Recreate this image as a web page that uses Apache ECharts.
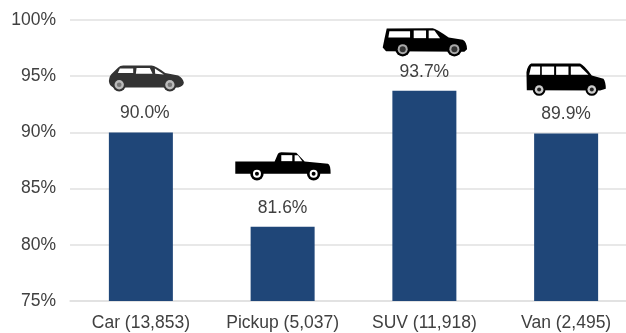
<!DOCTYPE html>
<html><head><meta charset="utf-8">
<style>html,body{margin:0;padding:0;background:#fff;overflow:hidden}#c{width:626px;height:333px;overflow:hidden}</style>
<script src="https://cdn.jsdelivr.net/npm/echarts@6/dist/echarts.min.js"></script>
</head><body><div id="c"></div>
<script>
const categories = ['Car (13,853)', 'Pickup (5,037)', 'SUV (11,918)', 'Van (2,495)'];
const values = [90.0, 81.6, 93.7, 89.9];
const yTicks = { min: 75, max: 100, interval: 5 };

// Vehicle pictograms, drawn at 3x and anchored to the top of each bar.
const icons = [
  { ox: -51, oy: -82, color: '#333',
    body: 'M57 92 Q58 76 68 68 L85 51 Q90 45 100 45 L185 45 Q197 45 226 68 L265 75 Q280 84 282 97 Q280 108 265 111 L70 111 Q58 106 57 92 Z',
    windows: ['M90 54 L130 54 L130 68 L84 68 Z', 'M140 53 L180 53 L188 70 L138 70 Z', 'M195 54 L222 72 L196 70 Z'],
    wheels: [[88, 103], [240, 103]], r: [20, 14, 7], wc: ['#333', '#bbb', '#777'] },
  { ox: -193, oy: -177, color: '#000',
    body: 'M437 335 L555 335 L565 312 Q567 307 575 307 L620 309 L645 335 L715 342 Q723 345 723 372 L437 372 Z',
    windows: ['M575 316 L608 316 L608 334 L575 334 Z', 'M615 316 L625 316 L638 334 L615 334 Z'],
    wheels: [[502, 372], [672, 372]], r: [20, 12, 6], wc: ['#000', '#fff', '#000'] },
  { ox: -55, oy: -75, color: '#000',
    body: 'M52 38 L190 37 Q200 38 238 65 L280 72 Q292 78 293 100 L285 108 L50 106 L40 95 L45 70 Z',
    windows: ['M60 46 L122 46 L122 65 L57 65 Z', 'M133 44 L170 44 L170 67 L133 67 Z', 'M178 44 L195 44 L212 67 L178 67 Z'],
    wheels: [[100, 100], [255, 100]], r: [22, 15, 9], wc: ['#000', '#aaa', '#333'] },
  { ox: -196, oy: -118, color: '#000',
    body: 'M483 144 L630 144 Q640 147 665 180 L700 190 Q707 200 707 220 L690 225 L470 224 L469 170 Q472 150 483 144 Z',
    windows: ['M483 153 L510 153 L510 178 L477 178 Z', 'M515 153 L552 153 L552 178 L515 178 Z', 'M558 153 L595 153 L595 178 L558 178 Z', 'M602 153 L630 153 L655 178 L602 178 Z'],
    wheels: [[507, 222], [665, 222]], r: [19, 13, 6], wc: ['#000', '#ccc', '#222'] }
];

function renderIcon(params, api) {
  const p = api.coord([api.value(0), api.value(1)]);
  const ic = icons[params.dataIndex];
  const children = [{ type: 'path', shape: { pathData: ic.body }, style: { fill: ic.color } }];
  ic.windows.forEach(d => children.push({ type: 'path', shape: { pathData: d }, style: { fill: '#fff' } }));
  ic.wheels.forEach(w => ic.r.forEach((r, i) => children.push({
    type: 'circle', shape: { cx: w[0], cy: w[1], r: r }, style: { fill: ic.wc[i] }
  })));
  return { type: 'group', x: p[0] + ic.ox, y: p[1] + ic.oy, scaleX: 1 / 3, scaleY: 1 / 3, children: children };
}

const font = 'Liberation Sans';
const chart = echarts.init(document.getElementById('c'), null, { renderer: 'canvas' });
chart.setOption({
  animation: false,
  backgroundColor: '#fff',
  grid: { left: 70, top: 20, width: 567, height: 281, containLabel: false, outerBoundsMode: 'none' },
  xAxis: {
    type: 'category', data: categories,
    axisTick: { show: false },
    axisLine: { lineStyle: { color: '#e0e0e0', width: 1.5 } },
    axisLabel: { color: '#404040', fontFamily: font, fontSize: 17.5, margin: 13, interval: 0 }
  },
  yAxis: {
    type: 'value', min: yTicks.min, max: yTicks.max, interval: yTicks.interval,
    axisLine: { show: false }, axisTick: { show: false },
    axisLabel: { color: '#404040', fontFamily: font, fontSize: 17.5, margin: 14, padding: [2, 0, 0, 0], formatter: '{value}%' },
    splitLine: { lineStyle: { color: '#e0e0e0', width: 1.5 } }
  },
  series: [
    {
      type: 'bar', barWidth: 64, z: 3,
      data: values.map((v, i) => i === 0 ? { value: v, label: { offset: [4, 0] } } : v),
      itemStyle: { color: '#1f4678' },
      label: {
        show: true, position: 'top', distance: 10, color: '#404040',
        fontFamily: font, fontSize: 17.5,
        formatter: p => p.value.toFixed(1) + '%'
      }
    },
    {
      type: 'custom', z: 4, silent: true, clip: false,
      data: values.map((v, i) => [i, v]),
      encode: { x: 0, y: 1 },
      renderItem: renderIcon
    }
  ]
});
</script></body></html>
